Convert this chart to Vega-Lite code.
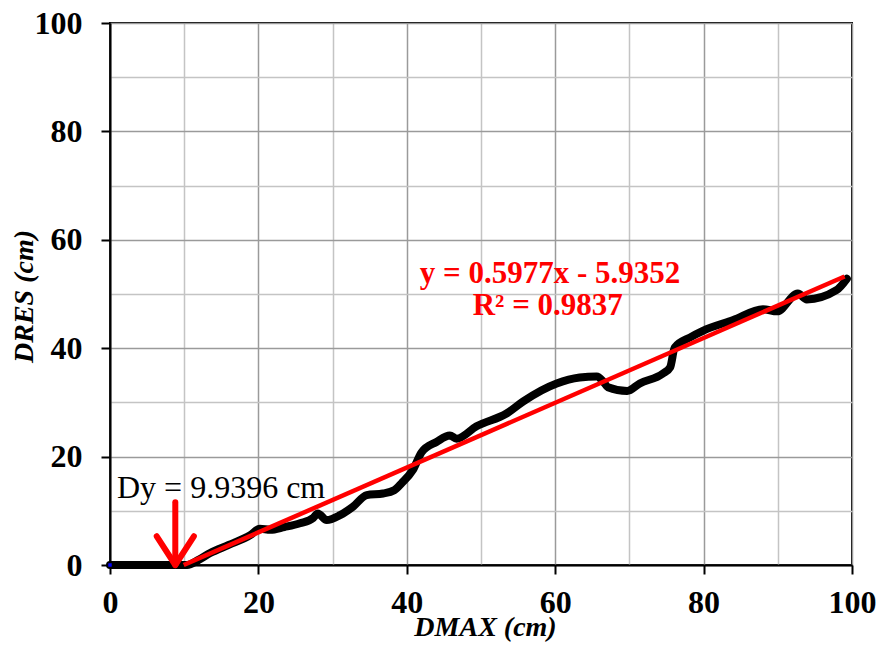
{
  "$schema": "https://vega.github.io/schema/vega-lite/v6.json",
  "width": 742,
  "height": 542,
  "autosize": {"type": "none"},
  "padding": {"left": 110, "top": 23, "right": 28, "bottom": 86},
  "background": "white",
  "config": {
    "view": {"stroke": "black", "strokeWidth": 2},
    "font": "Liberation Serif"
  },
  "datasets": {
    "measured": [
      {"x": 0, "y": 0}, {"x": 9.9, "y": 0}, {"x": 10.4, "y": 0}, {"x": 12, "y": 1},
      {"x": 13.5, "y": 2.2}, {"x": 16, "y": 3.7}, {"x": 18.9, "y": 5.5}, {"x": 20.2, "y": 6.7},
      {"x": 21.6, "y": 6.5}, {"x": 23.5, "y": 7}, {"x": 25.6, "y": 7.7}, {"x": 27.4, "y": 8.7},
      {"x": 28, "y": 9.5}, {"x": 29.2, "y": 8.3}, {"x": 31, "y": 9.2}, {"x": 32.7, "y": 10.7},
      {"x": 34.6, "y": 12.9}, {"x": 36.8, "y": 13.2}, {"x": 38.3, "y": 13.8}, {"x": 39.3, "y": 15.1},
      {"x": 40.8, "y": 17.5}, {"x": 42, "y": 20.8}, {"x": 44, "y": 22.7}, {"x": 45.8, "y": 23.9},
      {"x": 46.7, "y": 23.3}, {"x": 49.4, "y": 25.6}, {"x": 53.5, "y": 28}, {"x": 55.7, "y": 30.2},
      {"x": 60.2, "y": 33.5}, {"x": 63.3, "y": 34.6}, {"x": 65.6, "y": 34.8}, {"x": 66.5, "y": 33.8},
      {"x": 67.1, "y": 32.8}, {"x": 69.7, "y": 32.1}, {"x": 71.4, "y": 33.5}, {"x": 74.5, "y": 35.3},
      {"x": 75.5, "y": 36.5}, {"x": 76.1, "y": 40.1}, {"x": 78.2, "y": 42}, {"x": 79.9, "y": 43.2},
      {"x": 84, "y": 45.2}, {"x": 88, "y": 47.2}, {"x": 89.9, "y": 46.8}, {"x": 92.7, "y": 50.1},
      {"x": 93.9, "y": 49}, {"x": 97.9, "y": 50.7}, {"x": 99.3, "y": 52.8}
    ],
    "fit": [
      {"x": 9.93, "y": 0},
      {"x": 99, "y": 53.24}
    ],
    "arrow": [
      {"x": 8.8, "y": 11.6, "x2": 8.8, "y2": 0.4},
      {"x": 6.3, "y": 5.3, "x2": 8.8, "y2": 0},
      {"x": 11.3, "y": 5.3, "x2": 8.8, "y2": 0}
    ],
    "equation": [
      {"x": 59.3, "y": 52.0, "label": "y = 0.5977x - 5.9352"},
      {"x": 59.0, "y": 46.1, "label": "R² = 0.9837"}
    ],
    "offset": [
      {"x": 0.94, "y": 12.4, "label": "Dy = 9.9396 cm"}
    ],
    "origin": [
      {"x": 0, "y": 0}
    ]
  },
  "encoding": {
    "x": {
      "field": "x",
      "type": "quantitative",
      "scale": {"domain": [0, 100], "nice": false, "zero": false},
      "axis": {
        "values": [0, 10, 20, 30, 40, 50, 60, 70, 80, 90, 100],
        "labelExpr": "datum.value % 20 === 0 ? datum.label : ''",
        "labelFont": "Liberation Serif",
        "labelFontSize": 32,
        "labelFontWeight": "bold",
        "labelColor": "black",
        "labelPadding": 13,
        "labelFlush": false,
        "labelOverlap": false,
        "tickSize": 9,
        "tickWidth": 2,
        "tickColor": {"condition": {"test": "datum.value % 20 === 0", "value": "black"}, "value": "transparent"},
        "domainColor": "black",
        "domainWidth": 2,
        "grid": true,
        "gridColor": {"condition": {"test": "datum.value % 20 === 0", "value": "#9a9a9a"}, "value": "#c4c4c4"},
        "gridWidth": 1.5,
        "title": "DMAX (cm)",
        "titleFont": "Liberation Serif",
        "titleFontSize": 28,
        "titleFontWeight": "bold",
        "titleFontStyle": "italic",
        "titleColor": "black",
        "titleX": 375,
        "titleY": 70,
        "titleBaseline": "alphabetic"
      }
    },
    "y": {
      "field": "y",
      "type": "quantitative",
      "scale": {"domain": [0, 100], "nice": false, "zero": false},
      "axis": {
        "values": [0, 10, 20, 30, 40, 50, 60, 70, 80, 90, 100],
        "labelExpr": "datum.value % 20 === 0 ? datum.label : ''",
        "labelFont": "Liberation Serif",
        "labelFontSize": 32,
        "labelFontWeight": "bold",
        "labelColor": "black",
        "labelPadding": 19,
        "labelFlush": false,
        "labelOverlap": false,
        "tickSize": 9,
        "tickWidth": 2,
        "tickColor": {"condition": {"test": "datum.value % 20 === 0", "value": "black"}, "value": "transparent"},
        "domainColor": "black",
        "domainWidth": 2,
        "grid": true,
        "gridColor": {"condition": {"test": "datum.value % 20 === 0", "value": "#9a9a9a"}, "value": "#c4c4c4"},
        "gridWidth": 1.5,
        "title": "DRES (cm)",
        "titleFont": "Liberation Serif",
        "titleFontSize": 28,
        "titleFontWeight": "bold",
        "titleFontStyle": "italic",
        "titleColor": "black",
        "titleX": -72,
        "titleY": 273,
        "titleAngle": 270,
        "titleBaseline": "bottom"
      }
    }
  },
  "layer": [
    {
      "data": {"name": "measured"},
      "mark": {"type": "line", "color": "black", "strokeWidth": 8, "strokeJoin": "round", "strokeCap": "round", "interpolate": "monotone"},
      "encoding": {}
    },
    {
      "data": {"name": "origin"},
      "mark": {"type": "square", "color": "#0000ff", "size": 12, "opacity": 1},
      "encoding": {}
    },
    {
      "data": {"name": "fit"},
      "mark": {"type": "line", "color": "#ff0000", "strokeWidth": 4.5},
      "encoding": {}
    },
    {
      "data": {"name": "arrow"},
      "mark": {"type": "rule", "color": "#ff0000", "strokeWidth": 6, "strokeCap": "round"},
      "encoding": {
        "x2": {"field": "x2"},
        "y2": {"field": "y2"}
      }
    },
    {
      "data": {"name": "equation"},
      "mark": {"type": "text", "color": "#ff0000", "font": "Liberation Serif", "fontSize": 31, "fontWeight": "bold", "align": "center", "baseline": "alphabetic"},
      "encoding": {"text": {"field": "label"}}
    },
    {
      "data": {"name": "offset"},
      "mark": {"type": "text", "color": "black", "font": "Liberation Serif", "fontSize": 32, "align": "left", "baseline": "alphabetic"},
      "encoding": {"text": {"field": "label"}}
    }
  ]
}
